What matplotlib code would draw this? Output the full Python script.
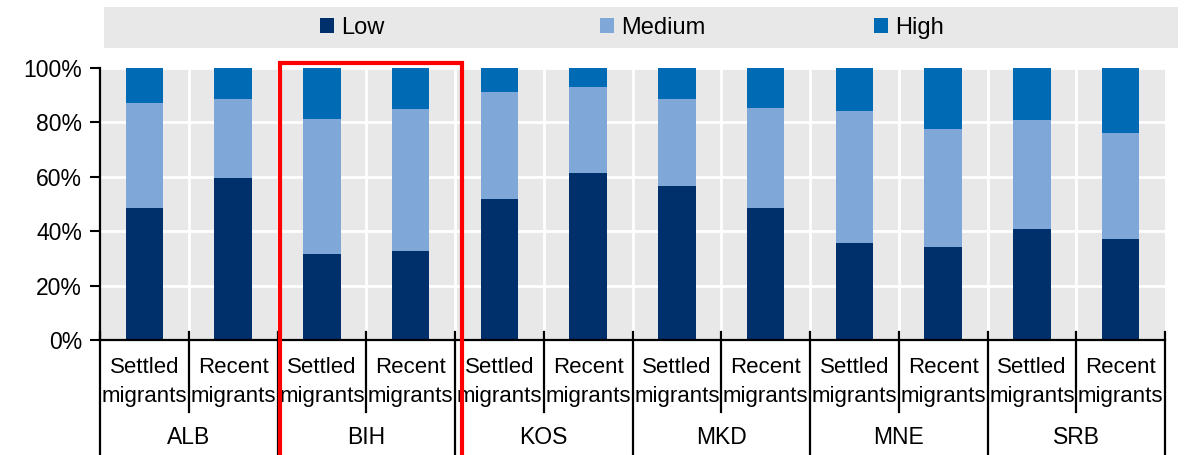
import numpy as np
import matplotlib.pyplot as plt
from matplotlib.patches import Rectangle
from matplotlib.transforms import blended_transform_factory

plt.rcParams['font.family'] = ['Liberation Sans', 'DejaVu Sans']

# Skill level shares (%) by country and migrant group
countries = ["ALB", "BIH", "KOS", "MKD", "MNE", "SRB"]
groups = ["Settled\nmigrants", "Recent\nmigrants"]
low = [48.5, 59.5, 31.7, 32.8, 51.8, 61.5, 56.7, 48.6, 35.8, 34.3, 40.9, 37.2]
medium = [38.5, 29.0, 49.5, 52.0, 39.3, 31.5, 32.0, 36.7, 48.5, 43.3, 40.1, 38.9]
high = [13.0, 11.5, 18.8, 15.2, 8.9, 7.0, 11.3, 14.7, 15.7, 22.4, 19.0, 23.9]
series_names = ["Low", "Medium", "High"]
colors = ["#00306B", "#7FA7D8", "#006AB4"]
highlight = "BIH"

BG = "#E8E8E8"

fig = plt.figure(figsize=(11.97, 4.55), dpi=100)
ax = fig.add_axes([100 / 1197, 1 - 340 / 455, 1065 / 1197, 272 / 455])
ax.set_facecolor(BG)

x = np.arange(len(low))
bottom = np.zeros(len(low))
handles = []
for vals, name, col in zip([low, medium, high], series_names, colors):
    b = ax.bar(x, vals, bottom=bottom, width=0.42, color=col, label=name, zorder=3)
    handles.append(b)
    bottom += np.array(vals)

ax.set_xlim(-0.5, len(low) - 0.5)
ax.set_ylim(0, 100)
ax.set_yticks(np.arange(0, 101, 20))
ax.set_yticklabels([f"{v}%" for v in range(0, 101, 20)], fontsize=16.5)

# white grid: horizontal at ticks, vertical between bars
for v in range(20, 101, 20):
    ax.axhline(v, color="white", lw=2, zorder=1)
for b in np.arange(0.5, len(low) - 0.5, 1):
    ax.axvline(b, color="white", lw=2, zorder=1)

for s in ["top", "right", "bottom"]:
    ax.spines[s].set_visible(False)
ax.spines["left"].set_linewidth(1.6)
ax.tick_params(axis="y", direction="out", length=7, width=1.5, pad=6)

ax.set_xticks(x)
ax.set_xticklabels(groups * len(countries), fontsize=16, linespacing=1.5)
ax.tick_params(axis="x", length=0, pad=12)

tr = blended_transform_factory(ax.transData, ax.transAxes)
ax.plot([-0.5, len(low) - 0.5], [0, 0], color="black", lw=1.6, transform=tr, clip_on=False, zorder=5)
for i in range(len(low) + 1):
    xb = i - 0.5
    if i % 2 == 0:
        ax.plot([xb, xb], [0.03, -0.43], color="black", lw=1.6, transform=tr, clip_on=False)
    else:
        ax.plot([xb, xb], [0.03, -0.265], color="black", lw=1.6, transform=tr, clip_on=False)

for k, c in enumerate(countries):
    ax.text(2 * k + 0.5, -0.357, c, transform=tr, ha="center", va="center", fontsize=16.5)

# red frame around highlighted country
k = countries.index(highlight)
ax.add_patch(Rectangle((2 * k - 0.47, -60), 2.05, 161.8, fill=False, edgecolor="#FF0000",
                       lw=3, clip_on=False, zorder=6))

# legend on a gray band, one slot per series
fig.patches.append(Rectangle((104 / 1197, 1 - 48 / 455), 1074 / 1197, 41 / 455,
                             transform=fig.transFigure, facecolor=BG, edgecolor="none", zorder=0))
slots = [320, 600, 874]
for h, name, px in zip(handles, series_names, slots):
    leg = fig.legend(handles=[h], labels=[name], loc="center left",
                     bbox_to_anchor=(px / 1197, 1 - 28 / 455), frameon=False, fontsize=17,
                     handlelength=0.6, handleheight=0.6, handletextpad=0.3,
                     borderpad=0, borderaxespad=0)

fig.savefig("out.png", dpi=100)
